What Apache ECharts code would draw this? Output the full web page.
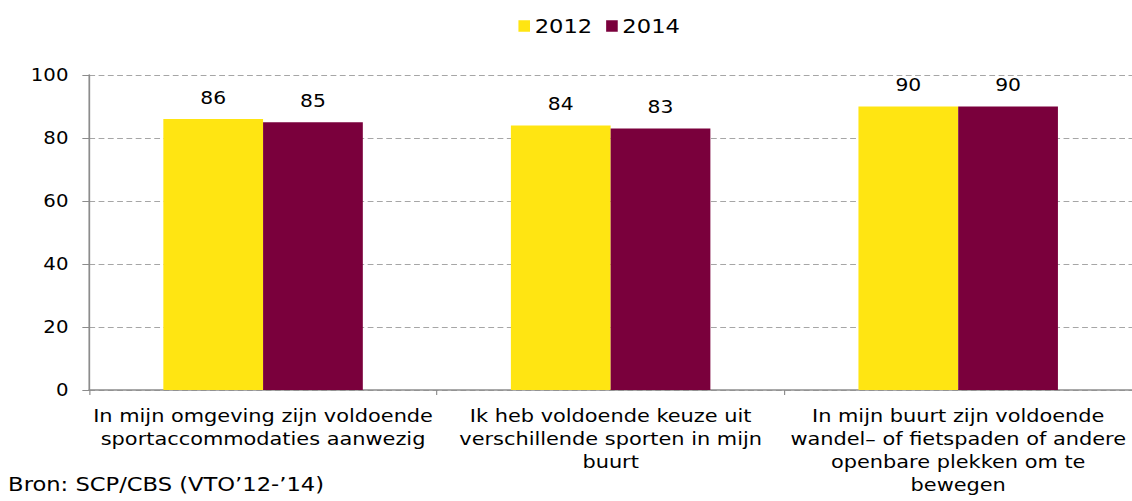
<!DOCTYPE html>
<html>
<head>
<meta charset="utf-8">
<script src="https://cdn.jsdelivr.net/npm/echarts@6/dist/echarts.min.js"></script>
<style>
  html, body { margin: 0; padding: 0; background: #fff; overflow: hidden; }
  /* the source picture is stretched sideways, so the chart is too */
  #chart { width: 976px; height: 501px; transform: scaleX(1.1598); transform-origin: 0 0; }
</style>
</head>
<body>
<div id="chart"></div>
<script>
var categories = [
  'In mijn omgeving zijn voldoende\nsportaccommodaties aanwezig',
  'Ik heb voldoende keuze uit\nverschillende sporten in mijn\nbuurt',
  'In mijn buurt zijn voldoende\nwandel\u2013 of fietspaden of andere\nopenbare plekken om te\nbewegen'
]
var values2012 = [86, 84, 90]
var values2014 = [85, 83, 90]
var yTicks = [0, 20, 40, 60, 80, 100]

var font = 'DejaVu Sans'
var chart = echarts.init(document.getElementById('chart'), null, { renderer: 'svg' })

var barLabel = {
  show: true,
  position: 'top',
  distance: 13,
  color: '#000',
  fontFamily: font,
  fontSize: 17.5
}

var option = {
  animation: false,
  color: ['#FFE512', '#7A003C'],
  textStyle: { fontFamily: font },
  legend: {
    top: 11,
    left: 442,
    itemWidth: 10,
    itemHeight: 11.5,
    itemGap: 12,
    icon: 'rect',
    textStyle: { fontFamily: font, fontSize: 19.5, color: '#000', padding: [0, 0, 0, -1] },
    data: ['2012', '2014']
  },
  grid: { left: 77, right: -1, top: 75, bottom: 111 },
  xAxis: {
    type: 'category',
    data: categories,
    axisLine: { lineStyle: { color: '#8c8c8c', width: 1.5 } },
    axisTick: { show: true, length: 5, lineStyle: { color: '#8c8c8c' } },
    axisLabel: {
      color: '#000',
      fontFamily: font,
      fontSize: 18,
      lineHeight: 23,
      margin: 15,
      interval: 0
    }
  },
  yAxis: {
    type: 'value',
    min: yTicks[0],
    max: yTicks[yTicks.length - 1],
    interval: 20,
    axisLine: { show: true, lineStyle: { color: '#8c8c8c', width: 1.5 } },
    axisTick: { show: true, length: 6, lineStyle: { color: '#8c8c8c' } },
    axisLabel: { color: '#000', fontFamily: font, fontSize: 17, margin: 18 },
    splitLine: { lineStyle: { color: '#a6a6a6', type: [5, 3], width: 1 } }
  },
  series: [
    {
      name: '2012',
      type: 'bar',
      data: values2012,
      barWidth: 86,
      barGap: '0%',
      label: barLabel
    },
    {
      name: '2014',
      type: 'bar',
      data: values2014,
      barWidth: 86,
      barGap: '0%',
      label: barLabel
    }
  ],
  graphic: [
    {
      type: 'text',
      left: 7,
      top: 474,
      style: { text: 'Bron: SCP/CBS (VTO\u201912-\u201914)', fontFamily: font, fontSize: 19.5, fill: '#000' }
    }
  ]
}

chart.setOption(option)
</script>
</body>
</html>
